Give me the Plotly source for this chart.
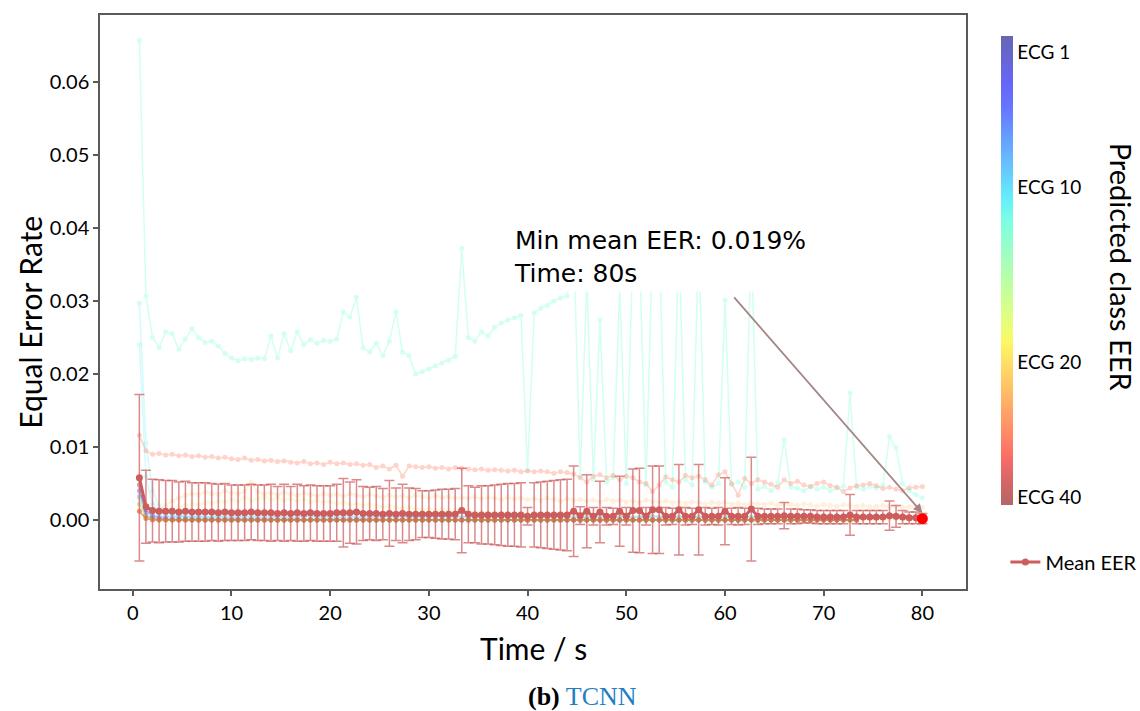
import numpy as np
import plotly.graph_objects as go

# ---------------- data ----------------
time_s = [round(k * 2 / 3, 3) for k in range(1, 121)]

mean_eer = [
    0.0058, 0.0018, 0.0013, 0.0012, 0.0012, 0.0012, 0.0011, 0.0012, 0.0011, 0.0011,
    0.0011, 0.0011, 0.0010, 0.0011, 0.0010, 0.0010, 0.0010, 0.0011, 0.0010, 0.0010,
    0.0010, 0.0009, 0.0010, 0.0009, 0.0010, 0.0009, 0.0010, 0.0009, 0.0009, 0.0009,
    0.0010, 0.0010, 0.0010, 0.0011, 0.0009, 0.0009, 0.0009, 0.0008, 0.0009, 0.0008,
    0.0009, 0.0008, 0.0008, 0.0008, 0.0008, 0.0008, 0.0008, 0.0008, 0.0008, 0.0013,
    0.0008, 0.0007, 0.0007, 0.0007, 0.0007, 0.0007, 0.0007, 0.0007, 0.0007, 0.0005,
    0.0007, 0.0007, 0.0007, 0.0007, 0.0007, 0.0007, 0.0012, 0.0006, 0.0012, 0.0005,
    0.0011, 0.0005, 0.0005, 0.0012, 0.0005, 0.0013, 0.0013, 0.0005, 0.0014, 0.0014,
    0.0005, 0.0005, 0.0014, 0.0005, 0.0005, 0.0014, 0.0005, 0.0005, 0.0005, 0.0012,
    0.0005, 0.0005, 0.0005, 0.0015, 0.0005, 0.0005, 0.0005, 0.0005, 0.0006, 0.0005,
    0.0005, 0.0005, 0.0005, 0.0004, 0.0004, 0.0004, 0.0004, 0.0004, 0.0007, 0.0004,
    0.0004, 0.0004, 0.0004, 0.0004, 0.0006, 0.0005, 0.0004, 0.0003, 0.0003, 0.0002,
]

std_eer = [
    0.0114, 0.0050, 0.0043, 0.0043, 0.0042, 0.0042, 0.0041, 0.0041, 0.0040, 0.0040,
    0.0040, 0.0039, 0.0039, 0.0039, 0.0038, 0.0038, 0.0038, 0.0038, 0.0038, 0.0038,
    0.0039, 0.0037, 0.0039, 0.0037, 0.0039, 0.0038, 0.0038, 0.0038, 0.0038, 0.0038,
    0.0039, 0.0047, 0.0042, 0.0044, 0.0037, 0.0036, 0.0037, 0.0035, 0.0045, 0.0036,
    0.0040, 0.0036, 0.0035, 0.0032, 0.0032, 0.0033, 0.0034, 0.0034, 0.0035, 0.0058,
    0.0039, 0.0038, 0.0040, 0.0040, 0.0041, 0.0042, 0.0043, 0.0043, 0.0044, 0.0012,
    0.0044, 0.0045, 0.0046, 0.0047, 0.0048, 0.0049, 0.0062, 0.0012, 0.0050, 0.0012,
    0.0042, 0.0012, 0.0011, 0.0048, 0.0012, 0.0057, 0.0058, 0.0012, 0.0060, 0.0060,
    0.0012, 0.0011, 0.0062, 0.0012, 0.0011, 0.0062, 0.0012, 0.0011, 0.0012, 0.0046,
    0.0011, 0.0012, 0.0011, 0.0071, 0.0011, 0.0010, 0.0010, 0.0010, 0.0018, 0.0010,
    0.0010, 0.0009, 0.0009, 0.0009, 0.0009, 0.0009, 0.0009, 0.0009, 0.0028, 0.0009,
    0.0009, 0.0009, 0.0009, 0.0009, 0.0020, 0.0015, 0.0009, 0.0008, 0.0008, 0.0007,
]

ecg12_eer = [
    0.0657, 0.0307, 0.0250, 0.0236, 0.0258, 0.0255, 0.0234, 0.0248, 0.0262, 0.0250,
    0.0243, 0.0245, 0.0238, 0.0228, 0.0222, 0.0218, 0.0221, 0.0220, 0.0222, 0.0221,
    0.0252, 0.0222, 0.0255, 0.0232, 0.0258, 0.0240, 0.0247, 0.0242, 0.0246, 0.0245,
    0.0248, 0.0285, 0.0278, 0.0305, 0.0236, 0.0230, 0.0242, 0.0225, 0.0245, 0.0285,
    0.0230, 0.0225, 0.0200, 0.0203, 0.0207, 0.0211, 0.0215, 0.0219, 0.0224, 0.0372,
    0.0250, 0.0245, 0.0258, 0.0252, 0.0264, 0.0270, 0.0274, 0.0277, 0.0280, 0.0068,
    0.0284, 0.0290, 0.0294, 0.0300, 0.0304, 0.0307, 0.0385, 0.0060, 0.0330, 0.0055,
    0.0274, 0.0052, 0.0058, 0.0320, 0.0050, 0.0370, 0.0375, 0.0048, 0.0385, 0.0385,
    0.0052, 0.0045, 0.0388, 0.0055, 0.0048, 0.0388, 0.0052, 0.0045, 0.0050, 0.0301,
    0.0048, 0.0052, 0.0045, 0.0390, 0.0042, 0.0046, 0.0040, 0.0050, 0.0110, 0.0045,
    0.0044, 0.0040, 0.0046, 0.0042, 0.0045, 0.0040, 0.0044, 0.0046, 0.0174, 0.0045,
    0.0042, 0.0046, 0.0044, 0.0048, 0.0114, 0.0099, 0.0050, 0.0040, 0.0035, 0.0030,
]

ecg14_eer = [
    0.0297, 0.0105, 0.0040, 0.0020, 0.0012, 0.0008, 0.0006, 0.0005, 0.0004, 0.0004,
    0.0003, 0.0003, 0.0003, 0.0002, 0.0002, 0.0002, 0.0002, 0.0002, 0.0001, 0.0001,
    0, 0, 0, 0, 0, 0, 0, 0, 0, 0, 0, 0, 0, 0, 0, 0, 0, 0, 0, 0,
    0, 0, 0, 0, 0, 0, 0, 0, 0, 0, 0, 0, 0, 0, 0, 0, 0, 0, 0, 0,
    0, 0, 0, 0, 0, 0, 0, 0, 0, 0, 0, 0, 0, 0, 0, 0, 0, 0, 0, 0,
    0, 0, 0, 0, 0, 0, 0, 0, 0, 0, 0, 0, 0, 0, 0, 0, 0, 0, 0, 0,
]

ecg13_eer = [
    0.0240, 0.0060, 0.0022, 0.0012, 0.0008, 0.0005, 0.0004, 0.0003, 0.0002, 0.0002,
    0.0001, 0.0001, 0, 0, 0, 0, 0, 0, 0, 0,
    0, 0, 0, 0, 0, 0, 0, 0, 0, 0, 0, 0, 0, 0, 0, 0, 0, 0, 0, 0,
    0, 0, 0, 0, 0, 0, 0, 0, 0, 0, 0, 0, 0, 0, 0, 0, 0, 0, 0, 0,
    0, 0, 0, 0, 0, 0, 0, 0, 0, 0, 0, 0, 0, 0, 0, 0, 0, 0, 0, 0,
    0, 0, 0, 0, 0, 0, 0, 0, 0, 0, 0, 0, 0, 0, 0, 0, 0, 0, 0, 0,
]

ecg35_eer = [
    0.0116, 0.0095, 0.0090, 0.0091, 0.0089, 0.0090, 0.0088, 0.0089, 0.0087, 0.0088,
    0.0086, 0.0087, 0.0085, 0.0086, 0.0084, 0.0083, 0.0085, 0.0082, 0.0083, 0.0081,
    0.0082, 0.0080, 0.0081, 0.0079, 0.0078, 0.0080, 0.0077, 0.0078, 0.0076, 0.0079,
    0.0077, 0.0078, 0.0076, 0.0077, 0.0075, 0.0076, 0.0072, 0.0074, 0.0070, 0.0075,
    0.0060, 0.0074, 0.0073, 0.0072, 0.0073, 0.0071, 0.0072, 0.0070, 0.0072, 0.0071,
    0.0070, 0.0069, 0.0070, 0.0068, 0.0069, 0.0068, 0.0067, 0.0068, 0.0066, 0.0067,
    0.0066, 0.0067, 0.0066, 0.0064, 0.0066, 0.0065, 0.0063, 0.0058, 0.0052, 0.0060,
    0.0062, 0.0058, 0.0061, 0.0055, 0.0060, 0.0058, 0.0052, 0.0050, 0.0039, 0.0048,
    0.0059, 0.0055, 0.0052, 0.0061, 0.0058, 0.0060, 0.0055, 0.0048, 0.0062, 0.0066,
    0.0050, 0.0034, 0.0057, 0.0050, 0.0055, 0.0052, 0.0049, 0.0045, 0.0055, 0.0050,
    0.0053, 0.0048, 0.0046, 0.0050, 0.0052, 0.0047, 0.0045, 0.0039, 0.0044, 0.0047,
    0.0048, 0.0050, 0.0047, 0.0043, 0.0045, 0.0042, 0.0040, 0.0044, 0.0045, 0.0046,
]

ecg30_eer = [
    0.0050, 0.0012, 0.0010, 0.0014, 0.0020, 0.0026, 0.0030, 0.0034, 0.0036, 0.0035,
    0.0038, 0.0036, 0.0035, 0.0040, 0.0037, 0.0036, 0.0039, 0.0052, 0.0038, 0.0036,
    0.0037, 0.0035, 0.0038, 0.0036, 0.0034, 0.0037, 0.0035, 0.0033, 0.0036, 0.0034,
    0.0035, 0.0033, 0.0036, 0.0034, 0.0032, 0.0035, 0.0033, 0.0031, 0.0034, 0.0032,
    0.0033, 0.0031, 0.0034, 0.0032, 0.0030, 0.0033, 0.0031, 0.0032, 0.0030, 0.0031,
    0.0030, 0.0032, 0.0029, 0.0031, 0.0030, 0.0028, 0.0031, 0.0029, 0.0030, 0.0028,
    0.0029, 0.0027, 0.0030, 0.0028, 0.0026, 0.0029, 0.0027, 0.0028, 0.0026, 0.0027,
    0.0025, 0.0028, 0.0026, 0.0027, 0.0025, 0.0026, 0.0024, 0.0027, 0.0025, 0.0024,
    0.0026, 0.0024, 0.0025, 0.0023, 0.0025, 0.0024, 0.0022, 0.0024, 0.0023, 0.0024,
    0.0022, 0.0023, 0.0021, 0.0023, 0.0022, 0.0021, 0.0023, 0.0020, 0.0022, 0.0021,
    0.0020, 0.0022, 0.0021, 0.0019, 0.0021, 0.0020, 0.0019, 0.0021, 0.0020, 0.0019,
    0.0020, 0.0018, 0.0019, 0.0020, 0.0018, 0.0019, 0.0017, 0.0018, 0.0019, 0.0017,
]

ecg20_eer = [
    0.0030, 0.0018, 0.0012, 0.0011, 0.0013, 0.0016, 0.0018, 0.0020, 0.0022, 0.0021,
    0.0024, 0.0023, 0.0026, 0.0025, 0.0028, 0.0026, 0.0030, 0.0027, 0.0029, 0.0031,
    0.0028, 0.0030, 0.0027, 0.0029, 0.0026, 0.0028, 0.0025, 0.0027, 0.0024, 0.0025,
    0.0023, 0.0024, 0.0021, 0.0022, 0.0020, 0.0021, 0.0019, 0.0018, 0.0019, 0.0017,
    0.0016, 0.0017, 0.0015, 0.0014, 0.0015, 0.0013, 0.0014, 0.0012, 0.0013, 0.0011,
    0.0012, 0.0010, 0.0011, 0.0010, 0.0009, 0.0010, 0.0009, 0.0008, 0.0009, 0.0008,
    0.0008, 0.0007, 0.0008, 0.0007, 0.0007, 0.0006, 0.0007, 0.0006, 0.0006, 0.0005,
    0.0006, 0.0005, 0.0005, 0.0005, 0.0004, 0.0005, 0.0004, 0.0004, 0.0004, 0.0004,
    0.0004, 0.0003, 0.0004, 0.0003, 0.0003, 0.0003, 0.0003, 0.0003, 0.0002, 0.0003,
    0.0002, 0.0002, 0.0003, 0.0002, 0.0002, 0.0002, 0.0002, 0.0002, 0.0002, 0.0002,
    0.0002, 0.0002, 0.0001, 0.0002, 0.0001, 0.0001, 0.0002, 0.0001, 0.0001, 0.0001,
    0.0001, 0.0001, 0.0001, 0.0001, 0.0001, 0.0001, 0.0001, 0.0001, 0.0001, 0.0001,
]

ecg7_eer = [
    0.0032, 0.0012, 0.0006, 0.0005, 0.0005, 0.0004, 0.0005, 0.0004, 0.0004, 0.0005,
    0.0004, 0.0004, 0.0005, 0.0004, 0.0004, 0.0004, 0.0005, 0.0004, 0.0004, 0.0004,
    0.0005, 0.0004, 0.0004, 0.0003, 0.0004, 0.0004, 0.0005, 0.0004, 0.0004, 0.0004,
    0.0004, 0.0005, 0.0004, 0.0004, 0.0003, 0.0004, 0.0004, 0.0004, 0.0005, 0.0004,
    0.0004, 0.0004, 0.0003, 0.0004, 0.0004, 0.0005, 0.0004, 0.0004, 0.0004, 0.0004,
    0.0003, 0.0004, 0.0004, 0.0004, 0.0005, 0.0004, 0.0004, 0.0003, 0.0004, 0.0004,
    0.0004, 0.0004, 0.0005, 0.0004, 0.0004, 0.0004, 0.0003, 0.0004, 0.0004, 0.0004,
    0.0005, 0.0004, 0.0004, 0.0004, 0.0004, 0.0003, 0.0004, 0.0004, 0.0005, 0.0004,
    0.0004, 0.0004, 0.0004, 0.0004, 0.0003, 0.0004, 0.0004, 0.0005, 0.0004, 0.0004,
    0.0004, 0.0003, 0.0004, 0.0004, 0.0004, 0.0004, 0.0005, 0.0004, 0.0004, 0.0004,
    0.0003, 0.0004, 0.0004, 0.0004, 0.0004, 0.0003, 0.0004, 0.0004, 0.0004, 0.0003,
    0.0004, 0.0004, 0.0003, 0.0004, 0.0004, 0.0003, 0.0004, 0.0003, 0.0003, 0.0003,
]

ecg4_eer = [
    0.0040, 0.0014, 0.0005, 0.0003, 0.0002, 0.0001, 0.0001, 0.0001, 0, 0,
    0, 0, 0, 0, 0, 0, 0, 0, 0, 0, 0, 0, 0, 0, 0, 0, 0, 0, 0, 0,
    0, 0, 0, 0, 0, 0, 0, 0, 0, 0, 0, 0, 0, 0, 0, 0, 0, 0, 0, 0,
    0, 0, 0, 0, 0, 0, 0, 0, 0, 0, 0, 0, 0, 0, 0, 0, 0, 0, 0, 0,
    0, 0, 0, 0, 0, 0, 0, 0, 0, 0, 0, 0, 0, 0, 0, 0, 0, 0, 0, 0,
    0, 0, 0, 0, 0, 0, 0, 0, 0, 0, 0, 0, 0, 0, 0, 0, 0, 0, 0, 0,
]

ecg1_eer = [
    0.0048, 0.0007, 0.0002, 0.0001, 0.0001, 0, 0, 0, 0, 0,
    0, 0, 0, 0, 0, 0, 0, 0, 0, 0, 0, 0, 0, 0, 0, 0, 0, 0, 0, 0,
    0, 0, 0, 0, 0, 0, 0, 0, 0, 0, 0, 0, 0, 0, 0, 0, 0, 0, 0, 0,
    0, 0, 0, 0, 0, 0, 0, 0, 0, 0, 0, 0, 0, 0, 0, 0, 0, 0, 0, 0,
    0, 0, 0, 0, 0, 0, 0, 0, 0, 0, 0, 0, 0, 0, 0, 0, 0, 0, 0, 0,
    0, 0, 0, 0, 0, 0, 0, 0, 0, 0, 0, 0, 0, 0, 0, 0, 0, 0, 0, 0,
]

ecg16_eer = [
    0.0022, 0.0004, 0.0001, 0, 0, 0, 0, 0, 0, 0,
    0, 0, 0, 0, 0, 0, 0, 0, 0, 0, 0, 0, 0, 0, 0, 0, 0, 0, 0, 0,
    0, 0, 0, 0, 0, 0, 0, 0, 0, 0, 0, 0, 0, 0, 0, 0, 0, 0, 0, 0,
    0, 0, 0, 0, 0, 0, 0, 0, 0, 0, 0, 0, 0, 0, 0, 0, 0, 0, 0, 0,
    0, 0, 0, 0, 0, 0, 0, 0, 0, 0, 0, 0, 0, 0, 0, 0, 0, 0, 0, 0,
    0, 0, 0, 0, 0, 0, 0, 0, 0, 0, 0, 0, 0, 0, 0, 0, 0, 0, 0, 0,
]

ecg27_eer = [
    0.0012, 0.0002, 0, 0, 0, 0, 0, 0, 0, 0,
    0, 0, 0, 0, 0, 0, 0, 0, 0, 0, 0, 0, 0, 0, 0, 0, 0, 0, 0, 0,
    0, 0, 0, 0, 0, 0, 0, 0, 0, 0, 0, 0, 0, 0, 0, 0, 0, 0, 0, 0,
    0, 0, 0, 0, 0, 0, 0, 0, 0, 0, 0, 0, 0, 0, 0, 0, 0, 0, 0, 0,
    0, 0, 0, 0, 0, 0, 0, 0, 0, 0, 0, 0, 0, 0, 0, 0, 0, 0, 0, 0,
    0, 0, 0, 0, 0, 0, 0, 0, 0, 0, 0, 0, 0, 0, 0, 0, 0, 0, 0, 0,
]

min_time = 80
min_mean_eer = 0.00019
arrow_tail = (60.8, 0.0307)
arrow_head = (80.0, 0.00096)

cbar_tick_pos = [0.966, 0.678, 0.305, 0.017]
cbar_tick_text = ["ECG 1", "ECG 10", "ECG 20", "ECG 40"]

x_ticks = [0, 10, 20, 30, 40, 50, 60, 70, 80]
y_ticks = [0.00, 0.01, 0.02, 0.03, 0.04, 0.05, 0.06]

# ---------------- colours ----------------
def jet(v):
    r = np.interp(v, [0, 0.35, 0.66, 0.89, 1], [0, 0, 1, 1, 0.5])
    g = np.interp(v, [0, 0.125, 0.375, 0.64, 0.91, 1], [0, 0, 1, 1, 0, 0])
    b = np.interp(v, [0, 0.11, 0.34, 0.65, 1], [0.5, 1, 1, 0, 0])
    return r, g, b

cscale = []
for s in np.linspace(0, 1, 21):
    r, g, b = jet(1 - s)  # top of bar = ECG 1 (dark blue)
    a = 0.6
    cscale.append([float(s), "rgb(%d,%d,%d)" % (
        round((r * a + 1 - a) * 255), round((g * a + 1 - a) * 255), round((b * a + 1 - a) * 255))])

FONT = "Lato"

fig = go.Figure()

classes = [
    (ecg12_eer, "rgb(40,255,200)", 0.2),
    (ecg14_eer, "rgb(40,240,230)", 0.2),
    (ecg13_eer, "rgb(60,230,255)", 0.2),
    (ecg35_eer, "rgb(255,90,50)", 0.26),
    (ecg30_eer, "rgb(255,150,20)", 0.15),
    (ecg20_eer, "rgb(235,215,0)", 0.15),
    (ecg7_eer, "rgb(60,170,255)", 0.35),
    (ecg4_eer, "rgb(70,70,255)", 0.35),
    (ecg1_eer, "rgb(70,50,170)", 0.35),
    (ecg16_eer, "rgb(120,220,90)", 0.4),
    (ecg27_eer, "rgb(235,120,40)", 0.75),
]
for vals, col, op in classes:
    fig.add_trace(go.Scatter(
        x=time_s, y=vals, mode="lines+markers", opacity=op,
        line=dict(color=col, width=1.5), marker=dict(color=col, size=5),
        showlegend=False, hoverinfo="skip"))

fig.add_trace(go.Scatter(
    x=time_s, y=mean_eer, mode="lines+markers", name="Mean EER",
    line=dict(color="#cd5c5c", width=3), marker=dict(color="#cd5c5c", size=7),
    error_y=dict(type="data", array=std_eer, visible=True,
                 color="rgba(205,92,92,0.72)", thickness=1.5, width=5)))

fig.add_trace(go.Scatter(
    x=[min_time], y=[min_mean_eer], mode="markers",
    marker=dict(color="red", size=11), showlegend=False))

# colour bar carrier
fig.add_trace(go.Scatter(
    x=[None], y=[None], mode="markers", showlegend=False,
    marker=dict(colorscale=cscale, cmin=0, cmax=1, color=[0], showscale=True,
                colorbar=dict(x=1.0404, xanchor="left", y=0.555, yanchor="middle",
                              len=0.817, lenmode="fraction", thickness=12,
                              xpad=0, ypad=0, outlinewidth=0, ticks="",
                              tickvals=cbar_tick_pos, ticktext=cbar_tick_text,
                              tickfont=dict(family=FONT, size=19, color="black")))))

axis_common = dict(showline=True, linecolor="#5a5a5a", linewidth=1.5, mirror=True,
                   ticks="outside", ticklen=5, tickcolor="#5a5a5a", tickwidth=1.5,
                   showgrid=False, zeroline=False,
                   tickfont=dict(family=FONT, size=20, color="black"))

fig.update_layout(
    width=1140, height=711,
    margin=dict(l=100, r=174, t=15, b=122, autoexpand=False),
    plot_bgcolor="white", paper_bgcolor="white",
    font=dict(family=FONT, size=20, color="black"),
    xaxis=dict(range=[-3.32, 84.42], tickvals=x_ticks, **axis_common),
    yaxis=dict(range=[-0.00945, 0.06918], tickvals=y_ticks, tickformat=".2f", **axis_common),
    legend=dict(x=1.0455, y=0.047, xanchor="left", yanchor="middle",
                font=dict(family=FONT, size=20, color="black"), bgcolor="rgba(0,0,0,0)"),
)

fig.add_annotation(x=arrow_head[0], y=arrow_head[1], ax=arrow_tail[0], ay=arrow_tail[1],
                   xref="x", yref="y", axref="x", ayref="y", text="", showarrow=True,
                   arrowhead=2, arrowsize=1, arrowwidth=1.8, arrowcolor="rgba(160,128,128,0.95)")
fig.add_annotation(x=38.2, y=0.0408, xref="x", yref="y", xanchor="left", yanchor="top",
                   text="Min mean EER: 0.019%<br>Time: 80s", showarrow=False, align="left",
                   bgcolor="white", borderpad=3,
                   font=dict(family="DejaVu Sans", size=25, color="black"))

fig.add_annotation(x=-0.0802, y=0.465, xref="paper", yref="paper", text="Equal Error Rate",
                   textangle=-90, showarrow=False, xanchor="center", yanchor="middle",
                   font=dict(family=FONT, size=30, color="black"))
fig.add_annotation(x=0.5003, y=-0.1028, xref="paper", yref="paper", text="Time / s",
                   showarrow=False, xanchor="center", yanchor="middle",
                   font=dict(family=FONT, size=30, color="black"))
fig.add_annotation(x=1.1800, y=0.560, xref="paper", yref="paper", text="Predicted class EER",
                   textangle=90, showarrow=False, xanchor="center", yanchor="middle",
                   font=dict(family=FONT, size=29, color="black"))
fig.add_annotation(x=0.5574, y=-0.188, xref="paper", yref="paper",
                   text="<b>(b)</b> <span style='color:#1f7fc1'>TCNN</span>",
                   showarrow=False, xanchor="center", yanchor="middle",
                   font=dict(family="Liberation Serif", size=26, color="black"))

fig.write_html("out.html", config={"displayModeBar": False},
               post_script="document.body.style.margin='0';document.body.style.overflow='hidden';")
